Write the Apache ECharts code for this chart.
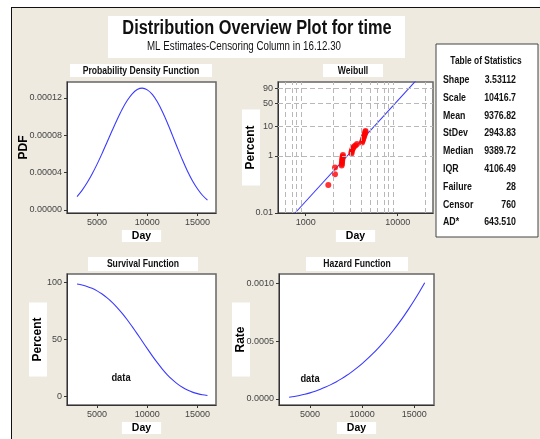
<!DOCTYPE html>
<html><head><meta charset="utf-8">
<script src="https://cdn.jsdelivr.net/npm/echarts@6/dist/echarts.min.js"></script>
<style>
html,body{margin:0;padding:0;background:#fff;}
#frame{position:absolute;left:11px;top:7px;width:600px;height:500px;background:#EEEAE0;border-left:1.5px solid #111;border-top:1.5px solid #111;}
#chart{position:absolute;left:0;top:0;width:540px;height:439px;}
</style></head>
<body>
<div id="frame"></div>
<div id="chart"></div>
<script>
// ---- data ----
const days = [3000,3500,4000,4500,5000,5500,6000,6500,7000,7500,8000,8500,9000,9500,10000,10500,11000,11500,12000,12500,13000,13500,14000,14500,15000,15500,16000];
const pdfValues = [0.0000143,0.0000210,0.0000291,0.0000385,0.0000491,0.0000606,0.0000728,0.0000850,0.0000969,0.0001079,0.0001172,0.0001244,0.0001289,0.0001304,0.0001286,0.0001237,0.0001158,0.0001054,0.0000933,0.0000801,0.0000667,0.0000537,0.0000418,0.0000314,0.0000228,0.0000158,0.0000106];
const survivalPercent = [98.8,97.9,96.7,95.0,92.8,90.0,86.7,82.8,78.2,73.1,67.5,61.4,55.1,48.6,42.1,35.8,29.8,24.2,19.2,14.9,11.2,8.2,5.8,4.0,2.7,1.7,1.1];
const hazardRate = [0.0000145,0.0000214,0.0000301,0.0000405,0.0000529,0.0000673,0.0000839,0.0001027,0.000124,0.0001476,0.0001738,0.0002026,0.0002342,0.0002685,0.0003057,0.0003459,0.0003891,0.0004355,0.000485,0.0005378,0.0005939,0.0006535,0.0007165,0.000783,0.0008532,0.000927,0.0010045];

const failDays = [1761,2082,2082,2460,2470,2480,2490,2500,2510,2520,2540,3147,3147,3187,3227,3267,3350,3478,3611,4093,4145,4196,4249,4302,4356,4411,4467,4467];
const failPercent = [0.096,0.229,0.392,0.460,0.519,0.584,0.659,0.743,0.838,0.946,1.066,1.202,1.355,1.528,1.722,1.864,2.100,2.274,2.561,2.886,3.250,3.657,4.118,4.632,5.209,5.860,6.583,7.227];
const fitDays = [767,16000];
const fitPercent = [0.01,98.9];

const linearDayTicks = [5000,10000,15000];
const pdfTicks = [0,0.00004,0.00008,0.00012];
const survivalTicks = [0,50,100];
const hazardTicks = [0,0.0005,0.001];
const weibullPctTicks = [0.01,1,10,50,90];
const weibullDayTicks = [1000,10000];
const weibullGridDays = [600,700,800,900,2000,3000,4000,5000,6000,7000,8000,9000,20000];
const weibullGridPct = [1,10,50,90];

const statLabels = ['Shape','Scale','Mean','StDev','Median','IQR','Failure','Censor','AD*'];
const statValues = ['3.53112','10416.7','9376.82','2943.83','9389.72','4106.49','28','760','643.510'];

// ---- scales ----
const lg = v => Math.log10(v);
const weib = p => Math.log(-Math.log(1 - p / 100));

const FONT = '"Liberation Sans",Arial,sans-serif';
const LINE = '#3a3aff';
const TICKFS = 9;

function baseX(idx, min, max, ticks, fmt) {
  return {
    gridIndex: idx, type: 'value', min: min, max: max,
    axisLine: {show: true, onZero: false, lineStyle: {color: '#333', width: 1}},
    axisTick: {show: true, length: 3, customValues: ticks, lineStyle: {color: '#333'}},
    axisLabel: {customValues: ticks, margin: 5, fontSize: TICKFS, fontFamily: FONT, color: '#444', formatter: fmt},
    splitLine: {show: false},
    name: 'Day', nameLocation: 'middle', nameGap: 17, nameMoveOverlap: false,
    nameTextStyle: {fontSize: 10.5, fontWeight: 'bold', fontFamily: FONT, color: '#000', backgroundColor: '#fff', padding: [1, 10, 0, 10]}
  };
}
function baseY(idx, min, max, ticks, fmt, name, gap, box, pad) {
  return {
    gridIndex: idx, type: 'value', min: min, max: max,
    axisLine: {show: true, onZero: false, lineStyle: {color: '#333', width: 1}},
    axisTick: {show: true, length: 3, customValues: ticks, lineStyle: {color: '#333'}},
    axisLabel: {customValues: ticks, margin: 5, fontSize: TICKFS, fontFamily: FONT, color: '#444', formatter: fmt},
    splitLine: {show: false},
    name: name, nameLocation: 'middle', nameRotate: 90, nameGap: gap, nameMoveOverlap: false,
    nameTextStyle: {fontSize: 12, fontWeight: 'bold', fontFamily: FONT, color: '#000',
      backgroundColor: box ? '#fff' : 'transparent', padding: pad}
  };
}

const grids = [
  {left: 67, top: 82, width: 149, height: 131},
  {left: 278, top: 82, width: 155, height: 131},
  {left: 67, top: 274, width: 149, height: 131},
  {left: 279, top: 274, width: 155, height: 131}
].map(g => Object.assign(g, {show: true, backgroundColor: '#fff', borderColor: '#666', borderWidth: 1.5, containLabel: false}));

const xAxes = [
  baseX(0, 2000, 16850, linearDayTicks, v => String(v)),
  baseX(1, lg(500), lg(24200), weibullDayTicks.map(lg), v => String(Math.round(Math.pow(10, v)))),
  baseX(2, 2000, 16850, linearDayTicks, v => String(v)),
  baseX(3, 2030, 16890, linearDayTicks, v => String(v))
];
const yAxes = [
  baseY(0, -0.0000032, 0.000137, pdfTicks, v => v.toFixed(5), 'PDF', 37, false, [0, 0, 0, 0]),
  baseY(1, weib(0.01), 1.35, weibullPctTicks.map(weib), v => {
    let best = weibullPctTicks[0], d = Infinity;
    weibullPctTicks.forEach(p => { const dd = Math.abs(weib(p) - v); if (dd < d) { d = dd; best = p; } });
    return String(best);
  }, 'Percent', 18, true, [3, 16, 3, 16]),
  baseY(2, -7.3, 107.6, survivalTicks, v => String(v), 'Percent', 20, true, [3, 15, 3, 15]),
  baseY(3, -0.000052, 0.00108, hazardTicks, v => v.toFixed(4), 'Rate', 29, true, [3, 24, 3, 24])
];

function sText(x, y, text, fs, bold, sx, align) {
  return {type: 'text', x: x, y: y, scaleX: sx, z: 50,
    style: {x: 0, y: 0, text: text, align: align || 'center', verticalAlign: 'middle',
      fontSize: fs, fontWeight: bold ? 'bold' : 'normal', fontFamily: FONT, fill: '#111'}};
}
function panelTitle(x, y, w, h, text) {
  return {
    type: 'group', children: [
      {type: 'rect', shape: {x: x, y: y, width: w, height: h}, style: {fill: '#fff'}},
      sText(x + w / 2, y + h / 2 + 0.5, text, 10.5, true, 0.82)
    ]
  };
}

const tableChildren = [
  {type: 'rect', shape: {x: 436, y: 44, width: 102, height: 193}, style: {fill: '#fff', stroke: '#444', lineWidth: 1}},
  sText(486, 61, 'Table of Statistics', 10.5, true, 0.8)
];
statLabels.forEach((l, i) => {
  const y = 80 + i * 17.8;
  tableChildren.push(sText(443, y, l, 11, true, 0.8, 'left'));
  tableChildren.push(sText(516, y, statValues[i], 11, true, 0.8, 'right'));
});

const graphic = [
  {type: 'rect', shape: {x: 108, y: 16, width: 297, height: 42}, style: {fill: '#fff'}},
  sText(257, 29, 'Distribution Overview Plot for time', 19.5, true, 0.84),
  sText(244, 47, 'ML Estimates-Censoring Column in 16.12.30', 12.5, false, 0.78),
  panelTitle(70, 64, 142, 13, 'Probability Density Function'),
  panelTitle(323, 64, 60, 13, 'Weibull'),
  panelTitle(88, 257, 110, 14, 'Survival Function'),
  panelTitle(306, 257, 102, 14, 'Hazard Function'),
  sText(121, 378, 'data', 11, true, 0.85),
  sText(310, 379, 'data', 11, true, 0.85),
  {type: 'group', children: tableChildren}
];

const lineStyle = {color: LINE, width: 1.1};
const series = [
  {type: 'line', xAxisIndex: 0, yAxisIndex: 0, data: days.map((d, i) => [d, pdfValues[i]]), smooth: 0.3, showSymbol: false, lineStyle: lineStyle, z: 3},
  {type: 'line', xAxisIndex: 1, yAxisIndex: 1, data: [], z: 1, silent: true,
    markLine: {silent: true, symbol: ['none', 'none'], label: {show: false}, animation: false,
      lineStyle: {color: '#b8b8b8', type: [5, 3], width: 1},
      data: weibullGridDays.map(d => ({xAxis: lg(d)})).concat(weibullGridPct.map(p => ({yAxis: weib(p)})))}},
  {type: 'line', xAxisIndex: 1, yAxisIndex: 1, data: fitDays.map((d, i) => [lg(d), weib(fitPercent[i])]), showSymbol: false, lineStyle: lineStyle, z: 3},
  {type: 'scatter', xAxisIndex: 1, yAxisIndex: 1, data: failDays.map((d, i) => [lg(d), weib(failPercent[i])]), symbolSize: 6, itemStyle: {color: '#ff0000'}, z: 4},
  {type: 'line', xAxisIndex: 2, yAxisIndex: 2, data: days.map((d, i) => [d, survivalPercent[i]]), smooth: 0.3, showSymbol: false, lineStyle: lineStyle, z: 3},
  {type: 'line', xAxisIndex: 3, yAxisIndex: 3, data: days.map((d, i) => [d, hazardRate[i]]), smooth: 0.3, showSymbol: false, lineStyle: lineStyle, z: 3}
];

const chart = echarts.init(document.getElementById('chart'), null, {renderer: 'canvas'});
chart.setOption({
  animation: false,
  backgroundColor: 'transparent',
  grid: grids, xAxis: xAxes, yAxis: yAxes, series: series, graphic: graphic
});
</script>
</body></html>
